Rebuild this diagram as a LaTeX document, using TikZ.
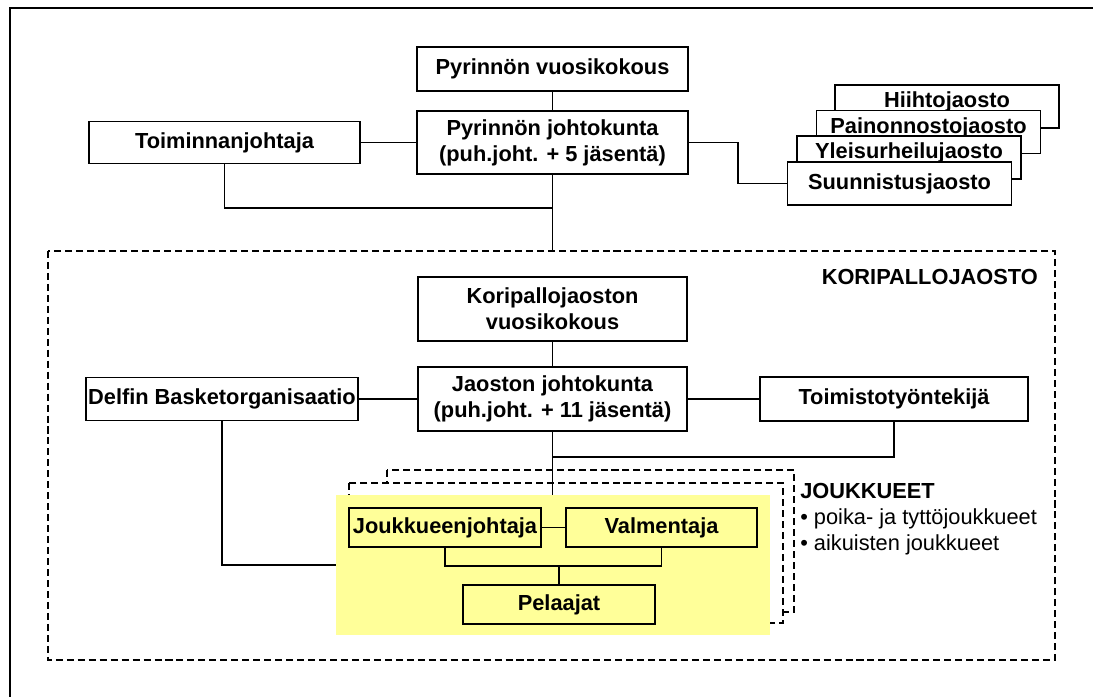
\documentclass[tikz,border=0pt]{standalone}
\usepackage{fontspec}
\setmainfont{Liberation Sans}
\definecolor{paleyellow}{RGB}{255,255,153}

\begin{document}
\begin{tikzpicture}[x=0.025cm, y=-0.025cm,
        box/.style={draw, line width=1.1pt, fill=white, font=\bfseries, align=center, inner sep=0pt},
        dashbox/.style={draw, line width=1.4pt, dash pattern=on 5pt off 2.8pt},
        link/.style={line width=1.1pt}]
        \fontsize{15.5}{18.5}\selectfont

        % 外枠
        \useasboundingbox (0,0) rectangle (1093,697);
        \draw[line width=1.6pt] (10,8) rectangle (1130,730);

        % 上段のノード
        \node[box, minimum width=6.775cm, minimum height=1.1cm] (pvuosi) at (552.5,69) {Pyrinnön vuosikokous};
        \node[box, minimum width=6.775cm, minimum height=1.575cm] (pjohto) at (552.5,142.5) {Pyrinnön johtokunta\\(puh.joht. + 5 jäsentä)};
        \node[box, minimum width=6.775cm, minimum height=1.05cm] (toimj) at (224.5,142.5) {Toiminnanjohtaja};

        % 他のjaostot (後ろから順に)
        \foreach \name/\x/\y/\ty/\txt in {hiihto/947/106.5/102/Hiihtojaosto, paino/928.5/132/128/Painonnostojaosto, yleis/909/157.5/153/Yleisurheilujaosto, suunn/899.5/183.5/183.5/Suunnistusjaosto}
            \node[box, minimum width=5.6cm, minimum height=1.075cm] (\name) at (\x,\y) {} node[font=\bfseries, inner sep=0pt] (\name-t) at (\x,\ty) {\txt};

        % 上段の線
        \coordinate (kori) at (552.5,251);
        \coordinate (tj) at (552.5,208);
        \coordinate (sbend) at (738,183.5);
        \draw[link] (pvuosi.south) -- (pjohto.north);
        \draw[link] (toimj.east) -- (pjohto.west);
        \draw[link] (pjohto.south) -- (kori);
        \draw[link] (toimj.south) |- (tj);
        \draw[link] (pjohto.east) -| (sbend) -- (suunn.west);

        % koripallojaosto
        \draw[dashbox] (48,251) rectangle (1055,660);
        \node[font=\bfseries, anchor=east, inner sep=0pt] (korilabel) at (1038,277) {KORIPALLOJAOSTO};

        \node[box, minimum width=6.725cm, minimum height=1.6cm] (kvuosi) at (552.5,309) {Koripallojaoston\\vuosikokous};
        \node[box, minimum width=6.725cm, minimum height=1.6cm] (jjohto) at (552.5,399) {Jaoston johtokunta\\(puh.joht. + 11 jäsentä)};
        \node[box, minimum width=6.8cm, minimum height=1.075cm] (delfin) at (222,399) {Delfin Basketorganisaatio};
        \node[box, minimum width=6.7cm, minimum height=1.1cm] (toimisto) at (894,399) {Toimistotyöntekijä};

        % joukkueet
        \draw[dashbox, fill=white] (387,470) rectangle (794,612);
        \draw[dashbox, fill=white] (349,483) rectangle (783,623);
        \fill[paleyellow] (336,495) rectangle (770,635);
        \node[anchor=west, align=left, inner sep=0pt] (teams) at (800,519) {\textbf{JOUKKUEET}\\• poika- ja tyttöjoukkueet\\• aikuisten joukkueet};

        \node[box, fill=paleyellow, minimum width=4.8cm, minimum height=0.975cm] (joukk) at (445,527.5) {Joukkueenjohtaja};
        \node[box, fill=paleyellow, minimum width=4.775cm, minimum height=0.975cm] (valm) at (661.5,527.5) {Valmentaja};
        \node[box, fill=paleyellow, minimum width=4.8cm, minimum height=0.975cm] (pel) at (559,604.5) {Pelaajat};

        % 下段の線
        \coordinate (ytop) at (552.5,495);
        \coordinate (tbend) at (552.5,457);
        \coordinate (yleft) at (336,565);
        \coordinate (tjoin) at (559,566);
        \draw[link] (kvuosi.south) -- (jjohto.north);
        \draw[link] (delfin.east) -- (jjohto.west);
        \draw[link] (jjohto.east) -- (toimisto.west);
        \draw[link] (jjohto.south) -- (ytop);
        \draw[link] (toimisto.south) |- (tbend);
        \draw[link] (delfin.south) |- (yleft);
        \draw[link] (joukk.east) -- (valm.west);
        \draw[link] (joukk.south) |- (tjoin) -| (valm.south);
        \draw[link] (tjoin) -- (pel.north);

    \end{tikzpicture}
\end{document}
